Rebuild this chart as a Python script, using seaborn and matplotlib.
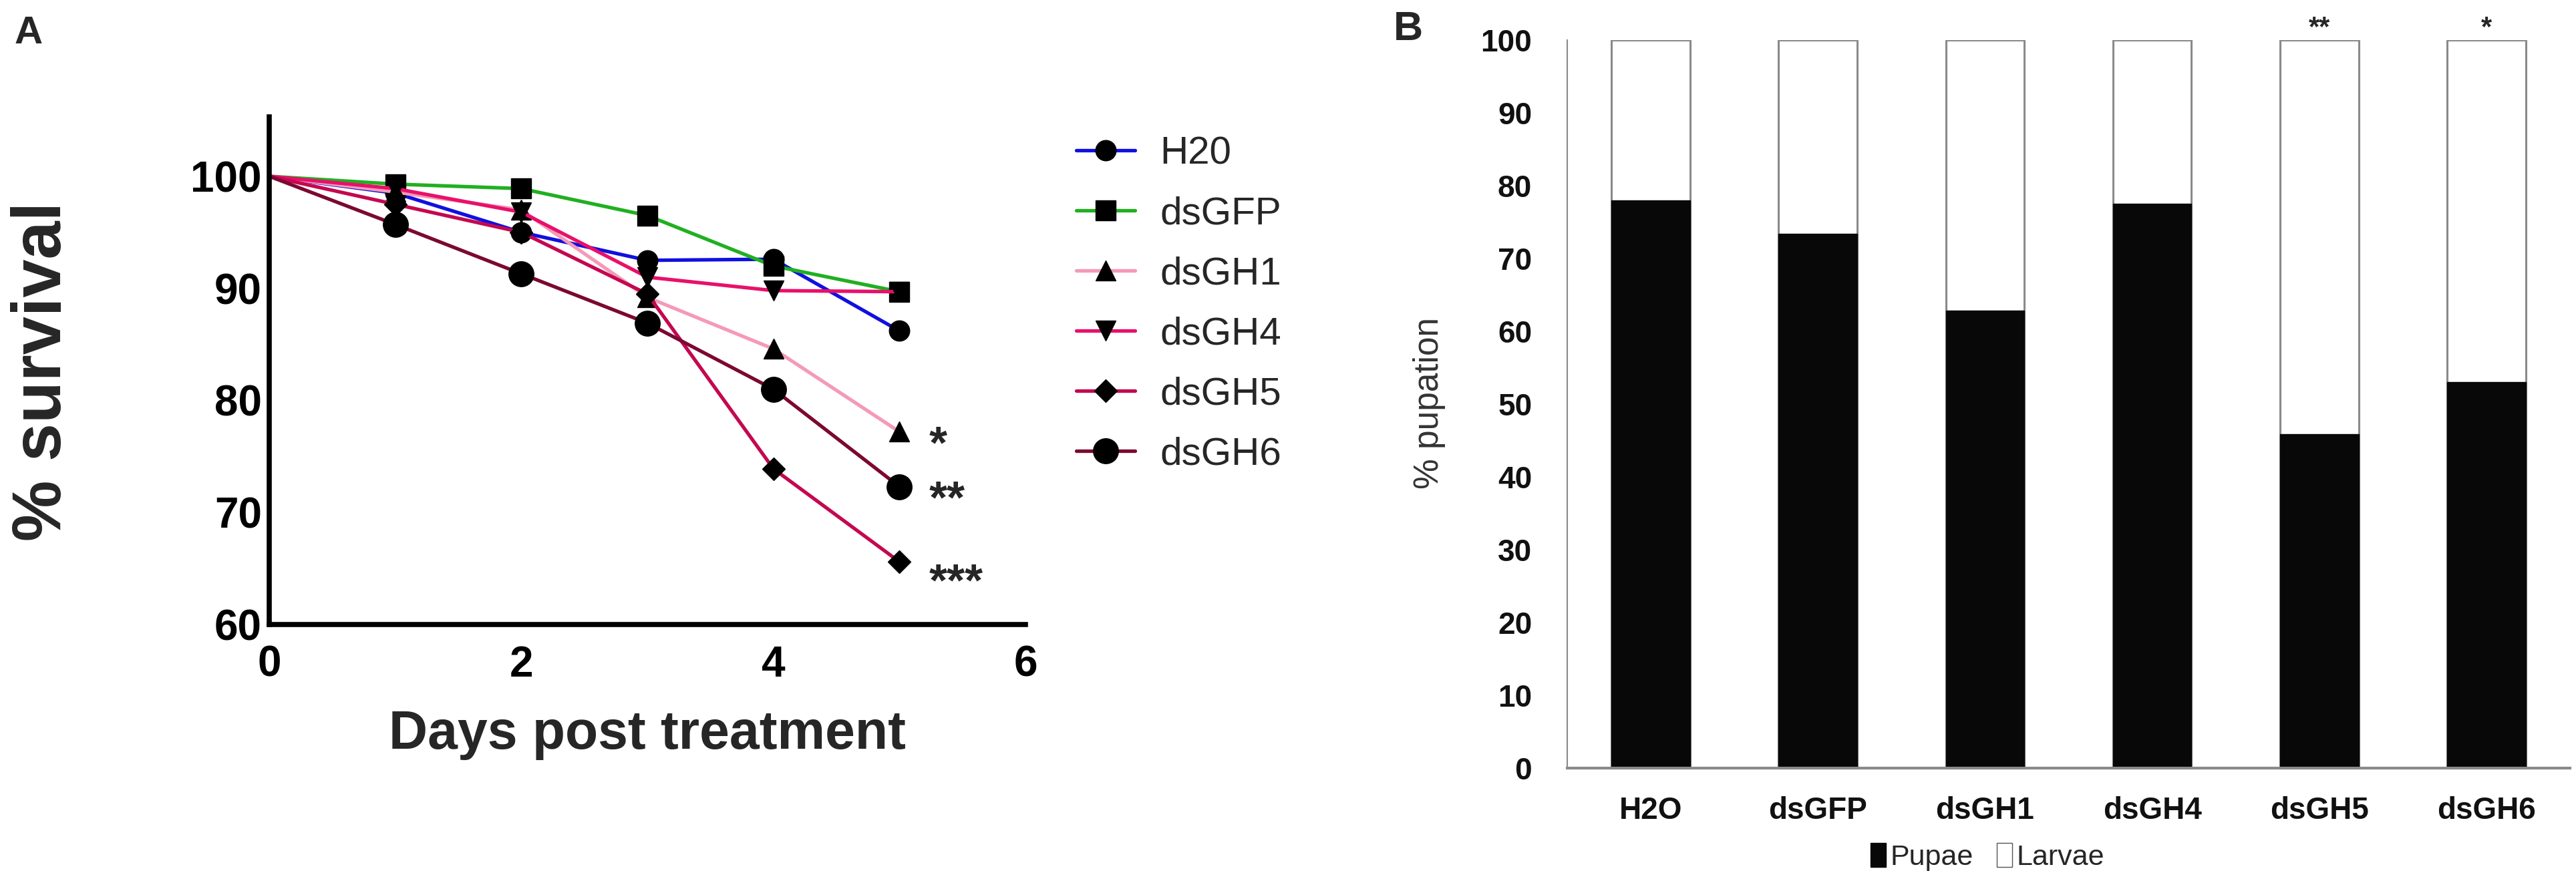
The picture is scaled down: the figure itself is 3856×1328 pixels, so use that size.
import numpy as np
import pandas as pd
import matplotlib
matplotlib.use("Agg")
import matplotlib.pyplot as plt
from matplotlib.patches import Patch
import seaborn as sns

# ---------------- data ----------------
days = [0, 1, 2, 3, 4, 5]
treatments = ["H20", "dsGFP", "dsGH1", "dsGH4", "dsGH5", "dsGH6"]
surv_H2O = [100, 98.5, 95.0, 92.5, 92.6, 86.2]
surv_dsGFP = [100, 99.3, 98.9, 96.5, 92.0, 89.7]
surv_dsGH1 = [100, 98.6, 97.0, 89.2, 84.6, 77.2]
surv_dsGH4 = [100, 98.9, 96.8, 91.0, 89.8, 89.7]
surv_dsGH5 = [100, 97.5, 95.0, 89.5, 73.9, 65.6]
surv_dsGH6 = [100, 95.7, 91.3, 86.9, 81.0, 72.3]
surv_sig = ["", "", "*", "", "***", "**"]

groups = ["H2O", "dsGFP", "dsGH1", "dsGH4", "dsGH5", "dsGH6"]
pupae = [78.0, 73.4, 62.8, 77.5, 45.9, 53.0]
larvae = [22.0, 26.6, 37.2, 22.5, 54.1, 47.0]
pup_sig = ["", "", "", "", "**", "*"]

# ---------------- styles ----------------
sns.set_style("white")
plt.rcParams["font.family"] = ["Liberation Sans", "DejaVu Sans"]

line_colors = ["#1010e0", "#20b020", "#f49ab8", "#e8106a", "#c40850", "#7c0832"]
markers = ["o", "s", "^", "v", "D", "o"]
msizes = [22, 22, 22, 22, 17, 27]

W, H = 3856, 1328
fig = plt.figure(figsize=(W / 100, H / 100), dpi=100)

# ---------------- panel A ----------------
axA = fig.add_axes([403 / W, 1 - 935 / H, (1535 - 403) / W, (935 - 175) / H])
series = [surv_H2O, surv_dsGFP, surv_dsGH1, surv_dsGH4, surv_dsGH5, surv_dsGH6]
for name, vals, c, m, ms in zip(treatments, series, line_colors, markers, msizes):
    df = pd.DataFrame({"day": days, "survival": vals})
    sns.lineplot(data=df, x="day", y="survival", ax=axA, color=c, marker=m,
                 markersize=ms, markerfacecolor="black", markeredgecolor="black",
                 markeredgewidth=1, linewidth=3.8, label=name, clip_on=False,
                 markevery=list(range(1, len(days))))

axA.set_xlim(0, 6)
axA.set_ylim(60, 105.3)
axA.set_xticks([0, 2, 4, 6])
axA.set_yticks([60, 70, 80, 90, 100])
axA.set_xlabel("")
axA.set_ylabel("")
for s in ["top", "right"]:
    axA.spines[s].set_visible(False)
for s in ["left", "bottom"]:
    axA.spines[s].set_linewidth(5.5)
    axA.spines[s].set_color("black")
axA.tick_params(direction="in", length=14, width=4, labelsize=46, pad=8, colors="black")
axA.tick_params(axis="x", pad=22)
for lab in axA.get_xticklabels() + axA.get_yticklabels():
    lab.set_fontweight("bold")

for vals, sig in zip(series, surv_sig):
    if sig:
        dy = -28 if sig != "***" else -36
        axA.annotate(sig, xy=(days[-1], vals[-1]), xytext=(32, dy),
                     textcoords="offset points", ha="left", va="baseline",
                     fontsize=50, fontweight="bold", annotation_clip=False)

handles, labels = axA.get_legend_handles_labels()
leg = axA.legend(handles, labels, loc="upper left",
                 bbox_to_anchor=(1611 / W, 1 - 203 / H), bbox_transform=fig.transFigure,
                 frameon=False, fontsize=42, handlelength=1.5, handletextpad=0.65,
                 labelspacing=0.62, borderpad=0, borderaxespad=0)

fig.text(65 / W, 1 - 556 / H, "% survival", rotation=90, ha="center", va="center",
         fontsize=74, fontweight="bold")
fig.text(969 / W, 1 - 1100 / H, "Days post treatment", ha="center", va="center",
         fontsize=58, fontweight="bold")
fig.text(22 / W, 1 - 50 / H, "A", ha="left", va="center", fontsize=42, fontweight="bold")

# ---------------- panel B ----------------
narrow = ["Liberation Sans Narrow", "Liberation Sans", "DejaVu Sans"]
axB = fig.add_axes([2346 / W, 1 - 1150 / H, (3847 - 2346) / W, (1150 - 60) / H])
dfB = pd.DataFrame({"group": groups, "pupae": pupae,
                    "total": [p + l for p, l in zip(pupae, larvae)]})
sns.barplot(data=dfB, x="group", y="total", order=groups, ax=axB, color="white",
            edgecolor="#8a8a8a", linewidth=2.2, width=0.47, saturation=1)
sns.barplot(data=dfB, x="group", y="pupae", order=groups, ax=axB, color="#080808",
            edgecolor="#080808", linewidth=1, width=0.47, saturation=1)
axB.set_xlim(-0.5, 5.5)
axB.set_ylim(0, 100)
axB.set_yticks(range(0, 101, 10))
axB.set_xlabel("")
axB.set_ylabel("")
for s in ["top", "right"]:
    axB.spines[s].set_visible(False)
axB.spines["left"].set_color("#8a8a8a")
axB.spines["left"].set_linewidth(1.5)
axB.spines["bottom"].set_color("#8a8a8a")
axB.spines["bottom"].set_linewidth(3)
axB.tick_params(length=0, labelsize=33, colors="#111111")
axB.tick_params(axis="y", pad=38)
axB.tick_params(axis="x", pad=30)
for lab in axB.get_xticklabels() + axB.get_yticklabels():
    lab.set_fontweight("bold")
    lab.set_family(narrow)

for i, sig in enumerate(pup_sig):
    if sig:
        axB.annotate(sig, xy=(i, 100), xytext=(0, 5), textcoords="offset points",
                     ha="center", va="baseline", fontsize=30, fontweight="bold",
                     annotation_clip=False)

legB = fig.legend(handles=[Patch(facecolor="#080808", edgecolor="#080808", label="Pupae"),
                           Patch(facecolor="white", edgecolor="#555555", label="Larvae")],
                  loc="center", bbox_to_anchor=(2975 / W, 1 - 1283 / H), ncol=2,
                  frameon=False, handlelength=0.55, handleheight=0.9,
                  handletextpad=0.15, columnspacing=0.8, prop={"family": narrow, "size": 31})

fig.text(2139 / W, 1 - 603 / H, "% pupation", rotation=90, ha="center", va="center",
         fontsize=37, color="#333333", family=narrow)
fig.text(2086 / W, 1 - 45 / H, "B", ha="left", va="center", fontsize=44, fontweight="bold")

fig.savefig("out.png", dpi=100)
